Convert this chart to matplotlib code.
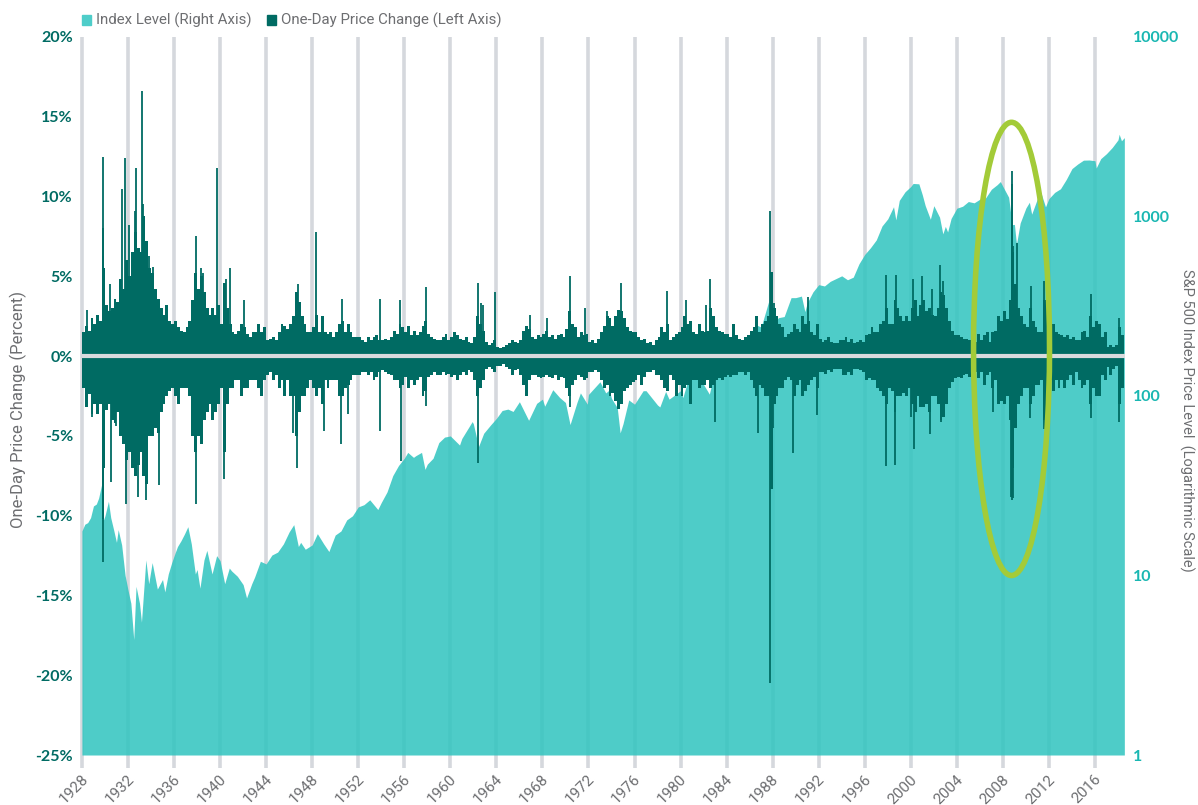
import numpy as np
import matplotlib.pyplot as plt
import matplotlib.transforms as mtransforms
from matplotlib.patches import Ellipse, Rectangle

# S&P 500 index level (right axis, log scale)
idx_years = [1928.0, 1928.25, 1928.5, 1928.75, 1929.0, 1929.25, 1929.45, 1929.7, 1929.87,
             1930.0, 1930.3, 1930.5, 1930.75, 1931.0, 1931.15, 1931.45, 1931.75,
             1932.0, 1932.25, 1932.5, 1932.7, 1933.0, 1933.17, 1933.55, 1933.8,
             1934.1, 1934.55, 1935.0, 1935.2, 1935.5, 1935.8, 1936.1, 1936.3, 1936.6, 1936.9,
             1937.2, 1937.5, 1937.85, 1938.0, 1938.25, 1938.6, 1938.85, 1939.0, 1939.3, 1939.7,
             1940.0, 1940.4, 1940.8, 1941.0, 1941.5, 1942.0, 1942.3, 1942.75, 1943.0, 1943.5,
             1944.0, 1944.5, 1945.0, 1945.5, 1946.0, 1946.4, 1946.8, 1947.0, 1947.4,
             1948.0, 1948.45, 1949.0, 1949.45, 1950.0, 1950.5, 1951.0, 1951.5, 1952.0, 1952.5,
             1953.0, 1953.7, 1954.0, 1954.5, 1955.0, 1955.5, 1956.0, 1956.3, 1956.8,
             1957.0, 1957.5, 1957.8, 1958.0, 1958.5, 1959.0, 1959.5, 1960.0, 1960.8,
             1961.0, 1961.9, 1962.0, 1962.45, 1962.9, 1963.5, 1964.0, 1964.5, 1965.0, 1965.45,
             1966.0, 1966.8, 1967.5, 1968.0, 1968.2, 1968.9, 1969.5, 1970.0, 1970.4,
             1971.0, 1971.3, 1971.9, 1972.0, 1973.0, 1973.5, 1973.8, 1974.0, 1974.5, 1974.75,
             1975.0, 1975.5, 1976.0, 1976.75, 1977.0, 1978.0, 1978.2, 1978.7, 1979.0,
             1980.0, 1980.2, 1980.9, 1981.5, 1982.5, 1983.0, 1983.5, 1984.0, 1984.5,
             1985.0, 1985.5, 1986.0, 1986.5, 1987.0, 1987.65, 1987.8, 1988.0, 1988.5,
             1989.0, 1989.6, 1990.0, 1990.5, 1990.8, 1991.0, 1991.5, 1992.0, 1992.5,
             1993.0, 1994.0, 1994.5, 1995.0, 1995.5, 1996.0, 1996.5, 1997.0, 1997.5,
             1998.0, 1998.5, 1998.7, 1999.0, 1999.5, 2000.0, 2000.2, 2000.7,
             2001.0, 2001.25, 2001.7, 2002.0, 2002.5, 2002.78, 2003.0, 2003.2, 2003.5,
             2004.0, 2004.5, 2005.0, 2005.5, 2006.0, 2006.5, 2007.0, 2007.5, 2007.78,
             2008.0, 2008.5, 2008.8, 2009.0, 2009.18, 2009.5, 2010.0, 2010.3, 2010.5,
             2011.0, 2011.3, 2011.7, 2012.0, 2012.5, 2013.0, 2013.5, 2014.0, 2014.5,
             2015.0, 2015.5, 2016.0, 2016.1, 2016.5, 2017.0, 2017.5, 2018.0, 2018.1, 2018.3, 2018.55]
idx_level = [17.7, 19.3, 19.7, 21.0, 24.4, 25.0, 27.0, 31.9, 20.4,
             21.5, 25.9, 21.0, 18.0, 15.3, 18.0, 14.8, 10.0,
             8.3, 7.0, 4.4, 8.7, 7.0, 5.5, 12.2, 9.0,
             11.8, 8.4, 9.5, 8.1, 10.2, 11.8, 13.4, 14.5, 15.6, 17.0,
             18.7, 15.0, 10.2, 10.8, 8.5, 12.2, 13.8, 12.5, 10.2, 12.9,
             12.1, 9.0, 11.0, 10.6, 9.9, 8.9, 7.5, 9.0, 9.8, 12.0,
             11.6, 13.0, 13.5, 15.0, 17.5, 19.2, 14.5, 15.3, 14.0,
             14.8, 17.1, 15.0, 13.6, 16.8, 17.7, 20.4, 21.5, 24.1, 24.8,
             26.4, 23.3, 25.5, 29.2, 36.0, 41.0, 45.0, 48.5, 45.5,
             46.5, 48.5, 39.0, 41.7, 45.0, 55.0, 59.0, 59.9, 53.3,
             58.0, 72.0, 70.0, 52.3, 62.0, 69.0, 75.0, 83.0, 84.5, 82.0,
             92.9, 73.2, 91.0, 96.0, 87.7, 108.4, 98.0, 92.0, 69.3,
             92.0, 104.0, 90.0, 102.0, 120.0, 104.0, 108.0, 97.0, 86.0, 62.3,
             70.0, 95.0, 90.0, 107.0, 107.0, 89.0, 86.9, 106.0, 96.0,
             107.0, 98.0, 140.0, 131.0, 102.4, 140.0, 168.0, 165.0, 150.0,
             167.0, 191.0, 211.0, 250.0, 242.0, 336.0, 225.0, 247.0, 273.0,
             277.0, 353.0, 353.0, 360.0, 295.0, 330.0, 380.0, 417.0, 410.0,
             435.0, 467.0, 444.0, 459.0, 545.0, 615.0, 670.0, 740.0, 885.0,
             970.0, 1133.0, 957.0, 1229.0, 1372.0, 1469.0, 1527.0, 1520.0,
             1320.0, 1150.0, 965.0, 1148.0, 990.0, 800.0, 880.0, 820.0, 975.0,
             1112.0, 1140.0, 1211.0, 1191.0, 1248.0, 1270.0, 1418.0, 1503.0, 1565.0,
             1468.0, 1280.0, 900.0, 903.0, 700.0, 919.0, 1115.0, 1200.0, 1030.0,
             1257.0, 1360.0, 1131.0, 1258.0, 1362.0, 1426.0, 1606.0, 1848.0, 1960.0,
             2059.0, 2063.0, 2044.0, 1860.0, 2099.0, 2239.0, 2423.0, 2673.0, 2870.0, 2640.0, 2750.0]

# one-day price change (percent), typical up / down range per quarter from 1928 Q1
up_q = [1.5, 1.9, 1.6, 2.4,  2.0, 2.6, 2.2, 5.5,  3.2, 2.8, 3.0, 3.6,  3.4, 4.8, 4.2, 6.0,
        5.0, 6.5, 7.8, 6.8,  6.5, 8.8, 7.2, 5.5,  5.2, 4.2, 3.6, 3.0,  2.6, 3.2, 2.2, 2.0,
        2.2, 1.8, 1.6, 1.5,  1.8, 2.2, 3.5, 5.2,  4.2, 5.0, 4.0, 3.0,  2.6, 3.0, 2.6, 3.2,
        2.0, 4.6, 3.0, 2.0,  1.5, 1.4, 1.6, 2.0,  1.8, 1.4, 1.2, 1.5,  1.5, 2.0, 1.5, 1.8,
        1.0, 1.1, 1.2, 1.0,  1.5, 2.0, 1.9, 1.7,  2.0, 2.5, 4.0, 3.4,  2.5, 2.0, 1.5, 1.5,
        1.8, 2.6, 1.5, 2.5,  1.5, 1.4, 1.5, 1.2,  1.5, 2.0, 2.2, 1.5,  2.0, 1.5, 1.2, 1.2,
        1.2, 1.0, 0.9, 1.2,  1.0, 1.2, 1.3, 1.0,  1.0, 1.1, 1.0, 1.2,  1.6, 1.4, 2.0, 1.8,
        1.5, 1.9, 1.3, 1.6,  1.3, 1.5, 1.9, 2.2,  1.4, 1.2, 1.1, 1.0,  1.0, 1.2, 1.4, 1.0,
        1.2, 1.5, 1.3, 1.1,  1.0, 1.2, 0.9, 0.8,  1.2, 2.5, 2.0, 1.6,  0.9, 0.7, 0.8, 1.0,
        0.6, 0.5, 0.6, 0.7,  0.8, 1.0, 0.9, 0.8,  1.0, 1.6, 1.9, 1.7,  1.2, 1.1, 1.3, 1.2,
        1.4, 1.6, 1.2, 1.3,  1.1, 1.3, 1.4, 1.2,  1.7, 2.8, 2.0, 1.8,  1.2, 1.5, 1.3, 1.4,
        0.9, 1.0, 0.8, 1.1,  1.5, 1.9, 2.5, 2.4,  1.9, 2.5, 2.9, 2.8,  2.4, 1.8, 1.6, 1.5,
        1.5, 1.2, 1.0, 1.1,  0.8, 0.9, 0.7, 1.0,  1.2, 1.8, 1.5, 2.0,  1.0, 1.2, 1.4, 1.5,
        1.8, 2.5, 2.0, 2.2,  1.5, 1.4, 2.0, 1.6,  1.5, 1.6, 3.0, 2.5,  1.8, 1.6, 1.5, 1.4,
        1.4, 1.2, 2.0, 1.3,  1.1, 1.0, 1.2, 1.3,  1.6, 1.8, 2.5, 1.5,  2.0, 2.2, 2.5, 5.3,
        3.0, 2.5, 2.0, 1.8,  1.2, 1.4, 1.5, 2.0,  1.7, 1.5, 2.5, 2.0,  2.2, 1.5, 1.3, 2.0,
        1.1, 0.9, 1.0, 1.2,  0.9, 0.8, 0.8, 1.0,  1.0, 1.2, 0.9, 1.1,  0.8, 0.9, 1.0, 0.9,
        1.3, 1.4, 1.8, 1.5,  1.5, 2.0, 2.2, 3.0,  2.0, 2.0, 3.5, 3.0,  2.5, 2.2, 2.5, 2.2,
        3.0, 3.5, 2.5, 3.2,  3.5, 2.8, 3.0, 2.6,  2.5, 3.0, 4.0, 3.8,  3.0, 2.2, 1.6, 1.3,
        1.3, 1.2, 1.1, 1.1,  1.0, 1.2, 0.9, 1.4,  1.0, 1.3, 1.5, 0.9,  1.5, 1.6, 2.5, 2.2,
        2.8, 2.3, 3.5, 6.5,  4.5, 3.0, 2.5, 2.0,  1.8, 3.0, 2.2, 1.8,  1.5, 1.5, 3.5, 3.2,
        1.2, 2.0, 1.5, 1.4,  1.3, 1.2, 1.3, 1.1,  1.2, 1.0, 1.0, 1.5,  1.6, 1.2, 2.5, 1.8,
        2.2, 2.0, 1.2, 1.5,  0.6, 0.7, 0.6, 0.7,  1.8, 1.3]
down_q = [-2.0, -3.2, -2.4, -3.6,  -3.0, -3.6, -3.0, -7.0,  -3.4, -3.0, -4.0, -4.2,  -3.5, -5.0, -5.5, -6.5,
          -6.0, -7.0, -7.5, -6.8,  -6.0, -7.5, -8.0, -5.0,  -5.0, -4.5, -4.8, -3.5,  -3.0, -2.5, -2.2, -2.0,
          -2.5, -3.0, -2.0, -2.0,  -2.0, -2.5, -5.0, -6.0,  -5.0, -5.5, -4.0, -3.5,  -3.0, -4.0, -3.5, -3.0,
          -2.0, -6.0, -3.0, -2.0,  -2.0, -1.5, -1.5, -2.5,  -2.0, -2.0, -1.5, -1.5,  -1.5, -2.0, -2.5, -1.5,
          -1.2, -1.0, -1.5, -1.2,  -2.0, -1.5, -2.5, -1.5,  -2.5, -2.5, -5.0, -3.5,  -2.5, -2.5, -2.0, -1.5,
          -2.0, -2.5, -2.0, -3.0,  -1.5, -2.0, -1.5, -1.5,  -1.5, -2.5, -2.5, -2.0,  -1.8, -1.5, -1.2, -1.2,
          -1.2, -1.0, -1.0, -1.2,  -1.0, -1.5, -1.3, -1.0,  -0.9, -1.0, -1.1, -1.2,  -1.5, -1.5, -2.0, -1.8,
          -1.3, -2.0, -1.5, -1.8,  -1.5, -1.3, -2.5, -2.2,  -1.3, -1.2, -1.0, -1.2,  -1.2, -1.0, -1.2, -1.1,
          -1.3, -1.2, -1.5, -1.2,  -1.0, -1.2, -0.9, -1.0,  -1.5, -2.5, -2.0, -1.5,  -0.8, -0.7, -0.8, -1.0,
          -0.6, -0.6, -0.5, -0.7,  -0.8, -1.2, -0.9, -0.8,  -1.2, -1.8, -2.5, -1.5,  -1.2, -1.2, -1.3, -1.4,
          -1.3, -1.2, -1.3, -1.4,  -1.2, -1.5, -1.3, -1.4,  -2.0, -2.5, -1.8, -1.5,  -1.2, -1.3, -1.5, -1.4,
          -1.0, -1.0, -0.9, -1.0,  -1.5, -2.0, -1.8, -2.5,  -2.3, -2.8, -3.3, -3.0,  -2.2, -2.0, -1.8, -1.6,
          -1.5, -1.2, -1.8, -1.3,  -1.0, -1.0, -0.9, -1.2,  -1.2, -1.5, -2.0, -2.2,  -1.2, -1.5, -2.5, -1.8,
          -2.5, -2.0, -1.8, -3.0,  -1.5, -1.5, -2.0, -1.8,  -1.8, -1.5, -2.0, -1.8,  -1.5, -1.4, -1.5, -1.3,
          -1.2, -1.3, -1.2, -1.2,  -1.0, -1.0, -1.2, -1.0,  -1.5, -2.0, -2.5, -1.8,  -2.0, -2.5, -2.5, -8.3,
          -3.0, -2.5, -2.0, -2.0,  -1.5, -1.3, -1.5, -2.5,  -1.8, -1.5, -2.5, -2.2,  -1.8, -1.5, -1.3, -2.0,
          -1.0, -1.0, -1.1, -0.9,  -1.0, -0.8, -0.8, -0.8,  -1.2, -1.2, -1.0, -1.2,  -0.8, -0.8, -0.9, -1.0,
          -1.5, -1.4, -1.5, -1.5,  -2.0, -2.2, -2.5, -3.0,  -2.0, -2.2, -3.5, -2.5,  -2.5, -2.3, -2.5, -2.0,
          -3.0, -3.5, -2.5, -3.2,  -3.2, -3.0, -3.5, -2.5,  -2.5, -3.0, -4.0, -3.8,  -3.0, -2.0, -1.6, -1.4,
          -1.3, -1.4, -1.2, -1.1,  -1.3, -1.1, -1.0, -1.4,  -1.0, -1.8, -1.2, -1.0,  -2.0, -1.5, -3.0, -2.8,
          -3.0, -2.5, -4.0, -7.0,  -4.5, -3.0, -2.5, -2.0,  -2.0, -3.0, -2.5, -1.8,  -1.8, -1.5, -4.0, -3.5,
          -1.5, -2.2, -1.5, -2.0,  -1.5, -2.0, -1.5, -1.2,  -1.8, -1.0, -1.5, -2.0,  -1.8, -1.5, -3.0, -2.0,
          -2.5, -2.5, -1.2, -1.5,  -0.7, -1.2, -0.8, -0.6,  -3.0, -2.0]

# single days that stick out of the range above
spike_up_years = [1928.45, 1929.8, 1929.82, 1929.87, 1930.4, 1931.45, 1931.76, 1932.1, 1932.59,
                  1932.72, 1933.2, 1933.3, 1933.55, 1933.85, 1934.2, 1937.9, 1938.3, 1938.5,
                  1939.75, 1940.5, 1940.9, 1942.1, 1946.75, 1948.36, 1950.55, 1953.9, 1955.6,
                  1957.9, 1962.41, 1962.7, 1962.85, 1963.9, 1966.9, 1968.4, 1970.4, 1971.7,
                  1973.6, 1974.8, 1978.85, 1980.5, 1982.2, 1982.6, 1987.8, 1988.1, 1991.04,
                  1997.82, 1998.69, 2000.2, 2001.0, 2001.8, 2002.56, 2002.8, 2008.78, 2008.82,
                  2008.9, 2009.22, 2010.4, 2011.6, 2015.65, 2018.1]
spike_up_pct = [2.9, 6.3, 12.5, 8.0, 4.5, 10.5, 12.4, 8.2, 9.1,
                11.8, 16.6, 9.5, 7.0, 6.3, 5.6, 7.5, 5.5, 5.2,
                11.8, 4.8, 5.5, 3.5, 4.5, 7.8, 3.6, 3.6, 3.5,
                4.3, 4.6, 3.3, 3.2, 4.0, 2.6, 2.4, 5.0, 3.0,
                2.8, 4.6, 4.1, 3.5, 3.2, 4.8, 9.1, 3.3, 3.7,
                5.1, 5.1, 4.8, 5.0, 4.2, 5.7, 4.7, 11.6, 10.8,
                6.9, 7.1, 4.4, 4.7, 3.9, 2.4]
spike_down_years = [1928.9, 1929.82, 1929.84, 1929.86, 1930.55, 1931.0, 1931.85, 1932.9, 1933.53,
                    1934.7, 1937.9, 1940.37, 1946.3, 1946.7, 1949.0, 1950.5, 1951.1, 1953.9,
                    1955.73, 1957.9, 1962.41, 1970.4, 1983.0, 1986.7, 1987.8, 1987.82, 1988.05,
                    1989.78, 1991.87, 1997.82, 1998.66, 2000.0, 2000.28, 2001.71, 2002.6,
                    2007.15, 2008.74, 2008.76, 2008.78, 2008.88, 2008.92, 2010.35, 2011.6,
                    2015.65, 2018.1]
spike_down_pct = [-3.8, -12.9, -10.2, -9.9, -7.9, -4.4, -9.3, -8.8, -9.0,
                  -8.1, -9.3, -7.7, -4.8, -7.0, -4.7, -5.5, -3.6, -4.7,
                  -6.6, -3.1, -6.7, -3.2, -4.1, -4.8, -20.5, -8.3, -4.5,
                  -6.1, -3.7, -6.9, -6.8, -3.8, -5.8, -4.9, -4.1,
                  -3.5, -8.8, -7.6, -9.0, -6.7, -8.9, -3.9, -4.6,
                  -3.9, -4.1]

tick_years = list(range(1928, 2017, 4))
pct_ticks = [-25, -20, -15, -10, -5, 0, 5, 10, 15, 20]
level_ticks = [1, 10, 100, 1000, 10000]

area_color = '#2fc4bf'
bar_color = '#006b63'
grid_color = '#d5d8dd'
gray_text = '#6d6e71'
narrow = ['Roboto', 'DejaVu Sans']
bold = ['Lato', 'DejaVu Sans']

fig = plt.figure(figsize=(11.98, 8.05), dpi=100)
ax = fig.add_axes([0.0684, 0.0621, 0.8706, 0.892])
ax2 = ax.twinx()
ax.set_zorder(ax2.get_zorder() + 1)
ax.patch.set_visible(False)

# index level area on the log axis
ax2.set_yscale('log')
ax2.fill_between(idx_years, idx_level, 1, color=area_color, alpha=0.85, linewidth=0, zorder=2)
ax2.set_ylim(1, 10000)
ax2.set_yticks(level_ticks)
ax2.set_yticklabels([str(v) for v in level_ticks])
ax2.yaxis.set_minor_locator(plt.NullLocator())
trans = mtransforms.blended_transform_factory(ax2.transData, ax2.transAxes)
for yr in tick_years:
    ax2.plot([yr, yr], [-0.018, 1.0], transform=trans, color=grid_color, lw=2.6,
             solid_capstyle='butt', clip_on=False, zorder=1)

# daily changes
edges = 1928 + 0.25 * np.arange(len(up_q) + 1)
ax.stairs(up_q, edges, baseline=0, fill=True, color=bar_color, linewidth=0)
ax.stairs(down_q, edges, baseline=0, fill=True, color=bar_color, linewidth=0)
ax.vlines(spike_up_years, 0, spike_up_pct, color=bar_color, lw=1.3)
ax.vlines(spike_down_years, 0, spike_down_pct, color=bar_color, lw=1.3)
ax.axhline(0, color='#d9dbde', lw=3, zorder=4)

ax.add_patch(Ellipse((2008.75, 0.45), width=6.6, height=28.4, fill=False,
                     edgecolor='#a3cb38', lw=4, zorder=5))

ax.set_xlim(1928, 2018.6)
ax.set_ylim(-25, 20)
ax.set_yticks(pct_ticks)
ax.set_yticklabels([f'{v}%' for v in pct_ticks])
ax.set_xticks(tick_years)
ax.set_xticklabels([str(y) for y in tick_years])

for a in (ax, ax2):
    for s in a.spines.values():
        s.set_visible(False)

ax.tick_params(axis='y', length=0, pad=6.5, labelcolor=bar_color)
ax2.tick_params(axis='y', length=0, pad=6, labelcolor='#1ab7b2')
ax.tick_params(axis='x', length=0, pad=16, labelcolor=gray_text)
for lab in ax.get_yticklabels() + ax2.get_yticklabels():
    lab.set_family(bold)
    lab.set_fontweight('bold')
    lab.set_fontsize(11.5)
offset = mtransforms.ScaledTranslation(4 / 100, 0, fig.dpi_scale_trans)
for lab in ax.get_xticklabels():
    lab.set_family(narrow)
    lab.set_fontsize(11)
    lab.set_rotation(45)
    lab.set_ha('right')
    lab.set_va('center')
    lab.set_rotation_mode('anchor')
    lab.set_transform(lab.get_transform() + offset)

fig.text(18 / 1198, 1 - 410 / 805, 'One-Day Price Change (Percent)', rotation=90,
         ha='center', va='center', color=gray_text, fontsize=12, family=narrow)
fig.text(1187 / 1198, 1 - 420 / 805, 'S&P 500 Index Price Level  (Logarithmic Scale)',
         rotation=270, ha='center', va='center', color=gray_text, fontsize=10.5, family=narrow)

# legend
fig.patches.append(Rectangle((82 / 1198, 1 - 25 / 805), 9 / 1198, 10 / 805,
                             transform=fig.transFigure, color='#4ecdc9', figure=fig))
fig.text(96 / 1198, 1 - 20 / 805, 'Index Level (Right Axis)', ha='left', va='center',
         color=gray_text, fontsize=10.8, family=narrow)
fig.patches.append(Rectangle((267 / 1198, 1 - 25 / 805), 9 / 1198, 10 / 805,
                             transform=fig.transFigure, color=bar_color, figure=fig))
fig.text(281 / 1198, 1 - 20 / 805, 'One-Day Price Change (Left Axis)', ha='left', va='center',
         color=gray_text, fontsize=10.8, family=narrow)

fig.savefig('out.png', dpi=100)
